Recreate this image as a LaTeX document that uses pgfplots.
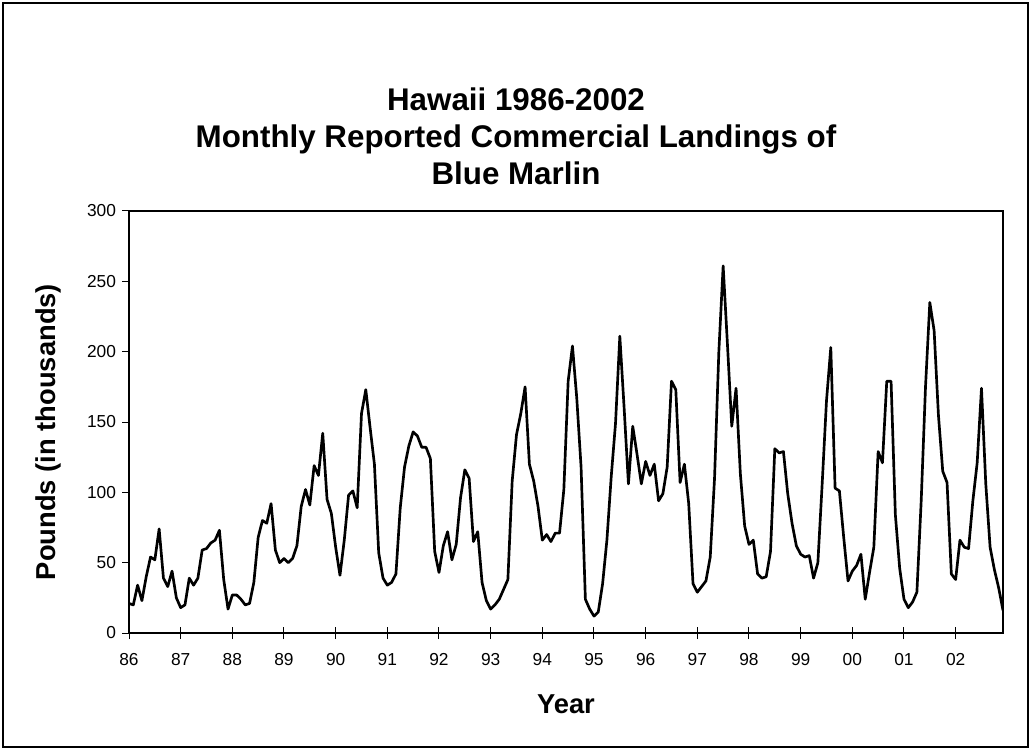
\documentclass[border=0pt]{standalone}
\usepackage{pgfplots}
\usepackage{pgfplotstable}
\pgfplotsset{compat=1.18}
\usepackage{fontspec}
\setmainfont{Liberation Sans}
\pgfplotstableread{
v
21
20
34
23
40
54
52
74
39
33
44
25
18
20
39
34
39
59
60
64
66
73
38
17
27
27
24
20
21
36
68
80
78
92
59
50
53
50
53
62
90
102
91
119
112
142
95
85
61
41
66
98
101
89
156
173
146
120
57
39
34
36
42
89
118
133
143
140
132
132
124
58
43
62
72
52
63
96
116
110
65
72
36
23
17
20
24
31
38
108
141
156
175
120
108
90
66
70
65
71
71
102
179
204
167
118
24
17
12
15
35
66
111
149
211
160
106
147
127
106
122
112
120
94
99
118
179
173
107
120
92
35
29
33
37
54
110
200
261
205
147
174
113
76
63
66
42
39
40
58
131
128
129
99
78
62
56
54
55
39
50
106
165
203
103
101
68
37
44
48
56
24
43
61
129
121
179
179
84
46
24
18
22
29
94
175
235
215
155
115
107
42
38
66
61
60
94
121
174
106
61
45
32
16
}\landings
\begin{document}
\begin{tikzpicture}
\path[use as bounding box] (0,0) rectangle (773.25pt,562.5pt);
\draw[line width=1.5pt] (2.25pt,2.25pt) rectangle (771pt,560.25pt);
\node[anchor=base, font=\bfseries\fontsize{23.5}{28}\selectfont] at (387pt,479.25pt) {Hawaii 1986-2002};
\node[anchor=base, font=\bfseries\fontsize{23.5}{28}\selectfont] at (387pt,451.5pt) {Monthly Reported Commercial Landings of};
\node[anchor=base, font=\bfseries\fontsize{23.5}{28}\selectfont] at (387pt,423.75pt) {Blue Marlin};
\node[rotate=90, anchor=center, font=\bfseries\fontsize{20.5}{24}\selectfont] at (36pt,238.5pt) {Pounds (in thousands)};
\node[anchor=base, font=\bfseries\fontsize{20.5}{24}\selectfont] at (424.5pt,27.75pt) {Year};
\begin{axis}[
  at={(96.75pt,87.75pt)}, anchor=south west,
  scale only axis, width=655.5pt, height=316.5pt,
  xmin=0, xmax=203, ymin=0, ymax=300,
  xtick={0,12,...,192},
  xticklabels={86,87,88,89,90,91,92,93,94,95,96,97,98,99,00,01,02},
  ytick={0,50,...,300},
  xtick pos=bottom, ytick pos=left,
  axis line style={line width=2pt, black},
  tick style={line width=0.75pt, black},
  x tick style={/pgfplots/major tick length=9pt},
  y tick style={/pgfplots/major tick length=5pt},
  xtick align=center, ytick align=outside,
  /pgf/number format/assume math mode=true,
  tick label style={font=\fontsize{13}{15}\selectfont, black},
  xticklabel style={yshift=-9.5pt},
  yticklabel style={xshift=-2pt},
]
\addplot[black, line width=2pt, line join=round, mark=none] table[x expr=\coordindex, y=v] {\landings};
\end{axis}
\end{tikzpicture}
\end{document}
